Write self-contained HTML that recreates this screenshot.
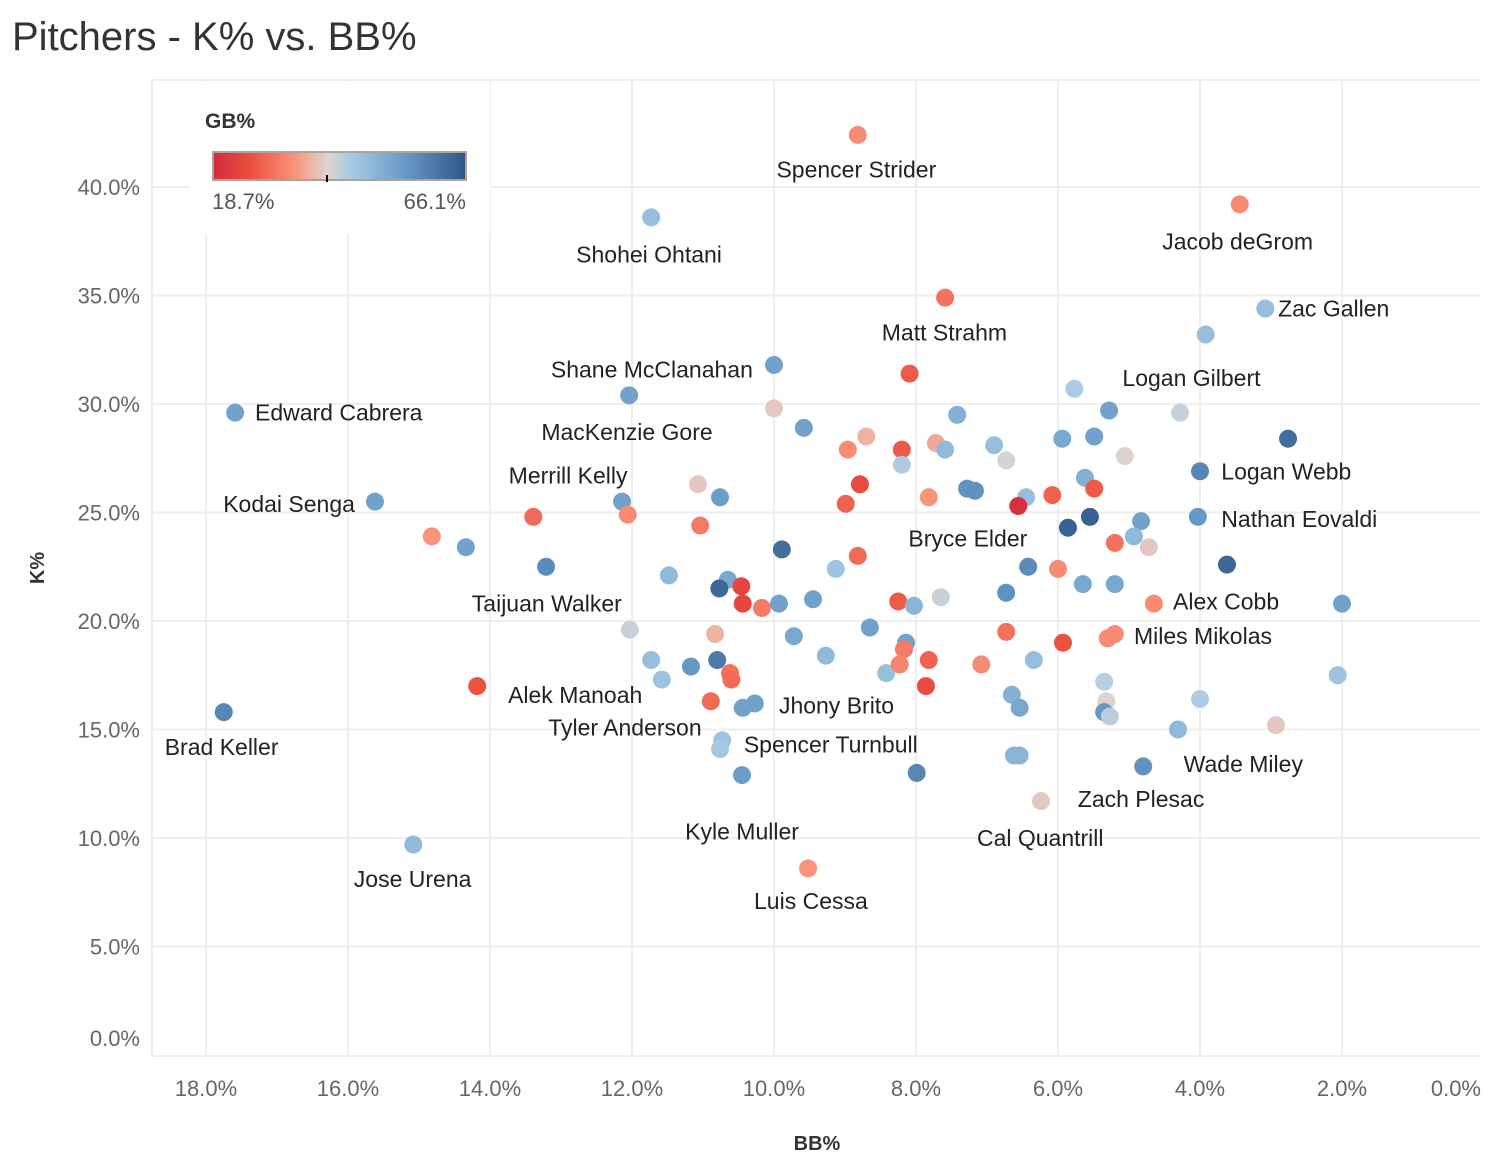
<!DOCTYPE html>
<html><head><meta charset="utf-8"><style>
body{margin:0;background:#fff;font-family:"Liberation Sans",sans-serif}
svg{display:block}
</style></head><body>
<svg id="chart" width="1506" height="1172" xmlns="http://www.w3.org/2000/svg">
<defs>
<linearGradient id="gbgrad" x1="0" x2="1" y1="0" y2="0">
<stop offset="0" stop-color="#d42a3c"/><stop offset="0.15" stop-color="#ec503f"/><stop offset="0.33" stop-color="#fa967d"/><stop offset="0.455" stop-color="#dcd6d2"/><stop offset="0.55" stop-color="#a4c9e4"/><stop offset="0.75" stop-color="#6a9cc8"/><stop offset="1" stop-color="#2d5688"/>
</linearGradient>
</defs>
<text x="12" y="50" font-size="40" fill="#333">Pitchers - K% vs. BB%</text>
<g id="grid"></g>
<g id="points"></g>
<g id="labels" font-size="23" fill="#222" dominant-baseline="central"></g>
<g>
<rect x="190" y="82" width="300" height="152" fill="#fff"/>
<text x="205" y="128" font-size="21" font-weight="bold" fill="#333">GB%</text>
<rect x="213" y="152" width="253" height="28" fill="url(#gbgrad)" stroke="#aaa49a" stroke-width="2"/>
<line x1="327" y1="175" x2="327" y2="182" stroke="#000" stroke-width="2"/>
<text x="212" y="209" font-size="22" fill="#555">18.7%</text>
<text x="466" y="209" font-size="22" fill="#555" text-anchor="end">66.1%</text>
</g>
<text x="44" y="568" font-size="20" font-weight="bold" fill="#333" text-anchor="middle" transform="rotate(-90 44 568)">K%</text>
<text x="817" y="1150" font-size="20" font-weight="bold" fill="#333" text-anchor="middle">BB%</text>
</svg>
<script>
const bbTicks=[18,16,14,12,10,8,6,4,2,0];
const kTicks=[40,35,30,25,20,15,10,5,0];
const bb=[8.82,11.73,3.44,7.59,3.08,3.92,10.0,8.09,12.04,5.77,5.28,4.28,17.59,10.0,7.42,9.58,8.7,8.96,8.2,7.72,7.59,6.9,5.94,5.49,2.76,6.73,8.2,5.06,4.0,5.62,11.07,8.79,10.76,7.82,7.28,7.17,6.45,6.08,5.49,15.62,12.14,8.99,6.56,4.03,5.55,5.86,4.83,13.39,12.06,11.04,4.93,5.2,4.72,14.82,14.34,9.89,8.82,9.13,13.21,11.48,6.42,6.0,3.62,10.65,10.46,10.77,5.65,5.2,6.73,7.65,10.44,9.45,10.17,9.93,8.25,8.03,4.65,2.0,12.03,8.65,10.83,9.72,8.14,6.73,5.2,5.3,5.93,8.17,11.73,11.17,10.8,9.27,7.82,7.08,6.34,2.06,10.62,10.6,11.58,8.42,8.23,5.35,14.18,7.86,10.89,10.27,10.44,6.65,6.54,5.32,4.0,5.35,5.27,4.31,2.93,17.75,10.73,10.76,6.62,6.54,4.8,7.99,10.45,6.24,15.08,9.52];
const kp=[42.4,38.6,39.2,34.9,34.4,33.2,31.8,31.4,30.4,30.7,29.7,29.6,29.6,29.8,29.5,28.9,28.5,27.9,27.9,28.2,27.9,28.1,28.4,28.5,28.4,27.4,27.2,27.6,26.9,26.6,26.3,26.3,25.7,25.7,26.1,26.0,25.7,25.8,26.1,25.5,25.5,25.4,25.3,24.8,24.8,24.3,24.6,24.8,24.9,24.4,23.9,23.6,23.4,23.9,23.4,23.3,23.0,22.4,22.5,22.1,22.5,22.4,22.6,21.9,21.6,21.5,21.7,21.7,21.3,21.1,20.8,21.0,20.6,20.8,20.9,20.7,20.8,20.8,19.6,19.7,19.4,19.3,19.0,19.5,19.4,19.2,19.0,18.7,18.2,17.9,18.2,18.4,18.2,18.0,18.2,17.5,17.6,17.3,17.3,17.6,18.0,17.2,17.0,17.0,16.3,16.2,16.0,16.6,16.0,16.3,16.4,15.8,15.6,15.0,15.2,15.8,14.5,14.1,13.8,13.8,13.3,13.0,12.9,11.7,9.7,8.6];
const gb=[33,47,33,30,47,47,53,27,53,44,53,42,53,39,50,53,37,33,27,36,48,47,52,53,62,41,44,40,58,50,39,25,54,34,56,56,47,28,27,53,53,28,20,55,64,64,53,29,33,31,48,30,39,34,53,62,29,46,57,48,57,33,63,52,24,63,52,52,56,42,24,53,31,53,27,49,33,53,42,53,37,52,53,30,33,33,26,31,47,55,60,48,28,33,47,46,30,29,46,47,32,43,26,25,29,53,53,50,52,40,44,55,43,48,39,58,46,45,49,49,56,58,54,39,48,34];
const names=["Spencer Strider","Shohei Ohtani","Jacob deGrom","Zac Gallen","Matt Strahm","Logan Gilbert","Shane McClanahan","Edward Cabrera","MacKenzie Gore","Merrill Kelly","Logan Webb","Kodai Senga","Nathan Eovaldi","Bryce Elder","Taijuan Walker","Alex Cobb","Miles Mikolas","Alek Manoah","Jhony Brito","Brad Keller","Tyler Anderson","Spencer Turnbull","Wade Miley","Zach Plesac","Kyle Muller","Cal Quantrill","Jose Urena","Luis Cessa"];
const labelBB=[8.84,11.76,3.47,2.9,7.6,4.12,11.72,17.31,12.07,12.9,3.7,16.83,3.7,7.27,13.2,4.38,4.93,12.8,9.12,17.78,12.1,9.2,3.39,4.83,10.45,6.25,15.09,9.48];
const labelK=[40.8,36.9,37.5,34.4,33.3,31.2,31.6,29.6,28.7,26.7,26.9,25.4,24.7,23.8,20.8,20.9,19.3,16.6,16.1,14.2,15.1,14.3,13.4,11.8,10.3,10.0,8.1,7.1];
const labelAnchor=["middle","middle","middle","start","middle","middle","middle","start","middle","middle","start","middle","start","middle","middle","start","start","middle","middle","middle","middle","middle","middle","middle","middle","middle","middle","middle"];
const xS=v=>1484-71*v;
const yS=v=>1055-21.7*v;
const stops=[[0,[212,42,60]],[0.15,[236,80,63]],[0.33,[250,150,125]],[0.455,[220,214,210]],[0.55,[164,201,228]],[0.75,[106,156,200]],[1,[45,86,136]]];
function col(g){let t=(g-18.7)/(66.1-18.7);t=Math.max(0,Math.min(1,t));
for(let i=1;i<stops.length;i++){if(t<=stops[i][0]){const a=stops[i-1],b=stops[i];const f=(t-a[0])/(b[0]-a[0]);
return 'rgb('+a[1].map((c,j)=>Math.round(c+(b[1][j]-c)*f)).join(',')+')';}}return 'rgb(45,86,136)';}
const NS="http://www.w3.org/2000/svg";
const grid=document.getElementById('grid');
function mk(tag,at,parent){const e=document.createElementNS(NS,tag);for(const k in at)e.setAttribute(k,at[k]);parent.appendChild(e);return e;}
const frame=mk('line',{x1:152,y1:80,x2:1481,y2:80,stroke:'#eee','stroke-width':2},grid);


const lf=mk('line',{x1:152,y1:80,x2:152,y2:1056,stroke:'#eee','stroke-width':2},grid);


const bf=mk('line',{x1:152,y1:1056,x2:1481,y2:1056,stroke:'#eee','stroke-width':2},grid);


bbTicks.forEach(v=>{const x=xS(v);
if(v>0){const l=mk('line',{x1:x,y1:80,x2:x,y2:1056,stroke:'#eee','stroke-width':2},grid);

}
const t=mk('text',{x:v===0?1481:x,y:1096,'font-size':22,fill:'#666','text-anchor':v===0?'end':'middle'},grid);
t.textContent=v.toFixed(1)+'%';

});
kTicks.forEach(v=>{const y=yS(v);
if(v>0){const l=mk('line',{x1:152,y1:y,x2:1481,y2:y,stroke:'#eee','stroke-width':2},grid);

}
const t=mk('text',{x:140,y:Math.min(y,1038)+8,'font-size':22,fill:'#666','text-anchor':'end'},grid);
t.textContent=v.toFixed(1)+'%';

});
const pg=document.getElementById('points');
bb.forEach((v,i)=>{const c=mk('circle',{cx:xS(v),cy:yS(kp[i]),r:9,fill:col(gb[i])},pg);

});
const lg=document.getElementById('labels');
names.forEach((n,i)=>{const t=mk('text',{x:xS(labelBB[i]),y:yS(labelK[i]),'text-anchor':labelAnchor[i]},lg);
t.textContent=n;

});
</script>
</body></html>
